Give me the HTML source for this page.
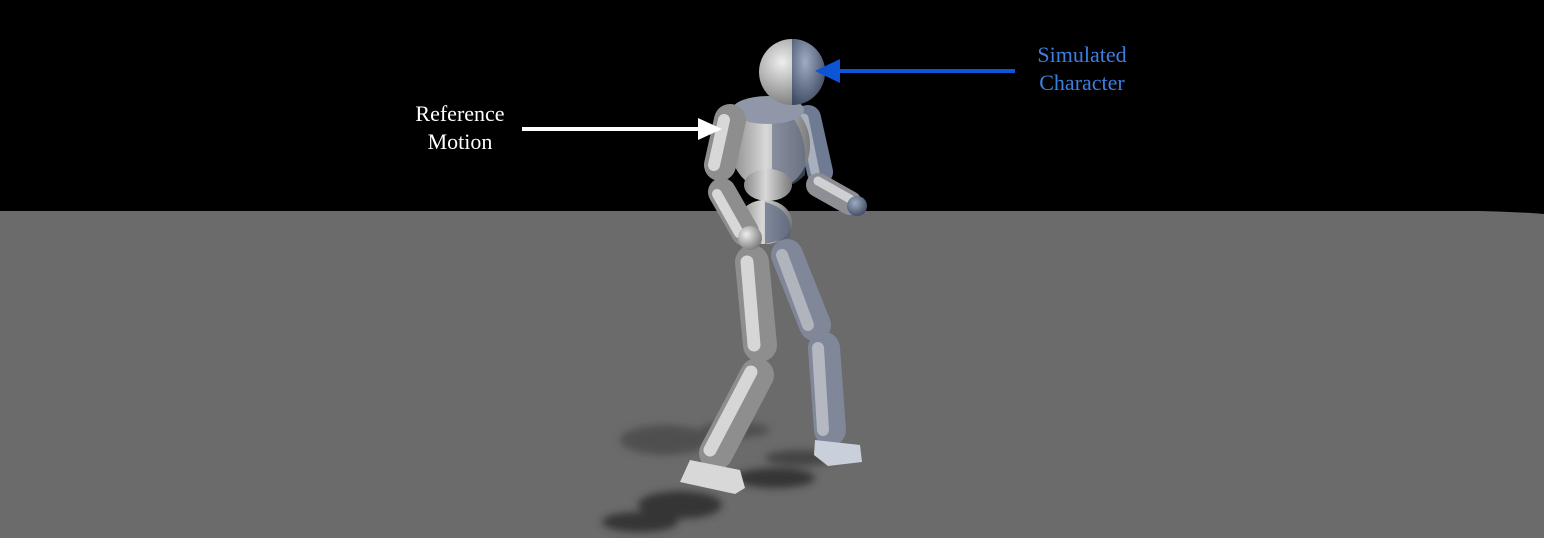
<!DOCTYPE html>
<html><head><meta charset="utf-8">
<style>
html,body{margin:0;padding:0;width:1544px;height:538px;overflow:hidden;background:#000;}
svg{display:block}
text{font-family:"Liberation Serif",serif;font-size:22px;}
</style></head>
<body>
<svg width="1544" height="538" viewBox="0 0 1544 538">
<defs>
<linearGradient id="g" x1="0" y1="0" x2="1" y2="0">
<stop offset="0" stop-color="#8a8a8a"/><stop offset="0.45" stop-color="#d8d8d8"/><stop offset="1" stop-color="#7a7a7a"/>
</linearGradient>
<radialGradient id="hg" cx="0.35" cy="0.35" r="0.7">
<stop offset="0" stop-color="#eeeeee"/><stop offset="1" stop-color="#7a7a7a"/>
</radialGradient>
<radialGradient id="hb" cx="0.4" cy="0.35" r="0.7">
<stop offset="0" stop-color="#9fabc2"/><stop offset="1" stop-color="#3d4a62"/>
</radialGradient>
<filter id="blur"><feGaussianBlur stdDeviation="4"/></filter>
</defs>
<rect x="0" y="0" width="1544" height="538" fill="#000"/>
<path d="M0 211 L1480 211 Q1520 212 1544 214 L1544 538 L0 538 Z" fill="#6b6b6b"/>

<g fill="#353535" filter="url(#blur)">
<ellipse cx="680" cy="505" rx="42" ry="14"/>
<ellipse cx="640" cy="522" rx="38" ry="10"/>
<ellipse cx="665" cy="440" rx="45" ry="15" fill="#505050"/>
<ellipse cx="735" cy="430" rx="35" ry="8" fill="#505050"/>
<ellipse cx="775" cy="478" rx="40" ry="10"/>
<ellipse cx="800" cy="458" rx="35" ry="8" fill="#454545"/>
</g>

<g stroke-linecap="round" fill="none">
<!-- far leg -->
<line x1="787" y1="255" x2="815" y2="325" stroke="#7f8798" stroke-width="32"/>
<line x1="782" y1="255" x2="808" y2="325" stroke="#b0b4bd" stroke-width="12"/>
<line x1="824" y1="348" x2="830" y2="430" stroke="#7f8798" stroke-width="32"/>
<line x1="818" y1="348" x2="823" y2="430" stroke="#b5b8c0" stroke-width="12"/>
<polygon points="815,440 860,445 862,462 828,466 814,455" fill="#c9d0dc"/>
<!-- far arm -->
<line x1="808" y1="118" x2="820" y2="172" stroke="#6f7b93" stroke-width="26"/>
<line x1="804" y1="118" x2="815" y2="172" stroke="#a8afbd" stroke-width="9"/>
<line x1="818" y1="185" x2="850" y2="203" stroke="#8d8f95" stroke-width="24"/>
<line x1="818" y1="181" x2="850" y2="199" stroke="#cfd0d3" stroke-width="9"/>
<circle cx="857" cy="206" r="10" fill="url(#hb)"/>
<!-- torso -->
<ellipse cx="770" cy="145" rx="40" ry="45" fill="url(#g)"/>
<path d="M772 100 Q810 120 805 175 Q790 190 772 188 Z" fill="#5a6782" opacity="0.6"/>
<ellipse cx="768" cy="110" rx="36" ry="14" fill="#8f97a8"/>
<ellipse cx="768" cy="185" rx="24" ry="16" fill="url(#g)"/>
<ellipse cx="765" cy="222" rx="27" ry="22" fill="url(#g)"/>
<path d="M765 202 Q795 210 790 238 L765 244 Z" fill="#54627e" opacity="0.65"/>
<!-- near leg -->
<line x1="752" y1="262" x2="760" y2="345" stroke="#8e8e8e" stroke-width="34"/>
<line x1="747" y1="262" x2="754" y2="345" stroke="#d6d6d6" stroke-width="13"/>
<line x1="757" y1="375" x2="716" y2="453" stroke="#8e8e8e" stroke-width="34"/>
<line x1="751" y1="372" x2="710" y2="450" stroke="#d6d6d6" stroke-width="13"/>
<polygon points="690,460 740,470 745,488 735,494 680,482" fill="#d8d8d8"/>
<!-- near arm -->
<line x1="730" y1="120" x2="720" y2="165" stroke="#8e8e8e" stroke-width="32"/>
<line x1="724" y1="120" x2="714" y2="165" stroke="#d8d8d8" stroke-width="12"/>
<line x1="722" y1="192" x2="745" y2="232" stroke="#8e8e8e" stroke-width="28"/>
<line x1="717" y1="194" x2="739" y2="233" stroke="#d8d8d8" stroke-width="10"/>
<circle cx="750" cy="238" r="12" fill="url(#hg)"/>
<!-- head -->
<circle cx="792" cy="72" r="33" fill="url(#hg)"/>
<path d="M792 39 A33 33 0 0 1 792 105 Z" fill="url(#hb)"/>
</g>

<g>
<text x="460" y="121" fill="#fff" text-anchor="middle">Reference</text>
<text x="460" y="149" fill="#fff" text-anchor="middle">Motion</text>
<line x1="522" y1="129" x2="700" y2="129" stroke="#fff" stroke-width="4"/>
<polygon points="722,129 698,118 698,140" fill="#fff"/>
</g>
<g>
<text x="1082" y="62" fill="#3d7fe0" text-anchor="middle">Simulated</text>
<text x="1082" y="90" fill="#3d7fe0" text-anchor="middle">Character</text>
<line x1="1015" y1="71" x2="838" y2="71" stroke="#0b55d6" stroke-width="4"/>
<polygon points="815,71 840,59 840,83" fill="#0b55d6"/>
</g>
</svg>
</body></html>
